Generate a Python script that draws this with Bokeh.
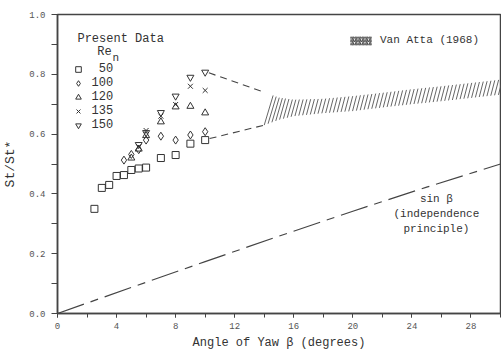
import numpy as np
from bokeh.plotting import figure
from bokeh.models import Legend, LegendItem, Label, Range1d, FixedTicker
from bokeh.embed import file_html
from bokeh.resources import INLINE

# ---- data ----
beta_50 = [2.5, 3, 3.5, 4, 4.5, 5, 5.5, 6, 7, 8, 9, 10]
st_50 = [0.35, 0.42, 0.43, 0.46, 0.463, 0.48, 0.485, 0.488, 0.52, 0.53, 0.568, 0.58]

beta_100 = [4.5, 5, 5.5, 6, 7, 8, 9, 10]
st_100 = [0.513, 0.532, 0.548, 0.58, 0.593, 0.58, 0.597, 0.608]

beta_120 = [5, 5.5, 6, 7, 8, 9, 10]
st_120 = [0.52, 0.55, 0.595, 0.641, 0.691, 0.693, 0.671]

beta_135 = [5.5, 6, 7, 8, 9, 10]
st_135 = [0.558, 0.612, 0.66, 0.699, 0.76, 0.746]

beta_150 = [5.5, 6, 7, 8, 9, 10]
st_150 = [0.565, 0.605, 0.672, 0.727, 0.79, 0.807]

# Van Atta (1968) band
va_beta = [14, 15, 16, 18, 20, 22, 24, 26, 28, 30]
va_upper = [0.74, 0.722, 0.715, 0.718, 0.727, 0.738, 0.75, 0.76, 0.771, 0.782]
va_lower = [0.63, 0.648, 0.66, 0.67, 0.677, 0.689, 0.70, 0.71, 0.721, 0.732]

# dashed connectors
conn_up_beta = [10.25, 14]
conn_up_st = [0.805, 0.74]
conn_lo_beta = [10.3, 14]
conn_lo_st = [0.585, 0.63]

# sin beta (independence principle)
sin_beta = [0, 5, 10, 15, 20, 25, 30]
sin_val = [0.0, 0.0872, 0.1736, 0.2588, 0.3420, 0.4226, 0.5]

x_ticks = [0, 4, 8, 12, 16, 20, 24, 28]
y_ticks = [0, 0.2, 0.4, 0.6, 0.8, 1.0]

FONT = "Liberation Mono"
INK = "#333333"
AX = "#444444"

p = figure(width=501, height=353, output_backend="svg", toolbar_location=None,
           x_range=Range1d(0, 30), y_range=Range1d(0, 1.0),
           min_border_left=55, min_border_right=1, min_border_top=14, min_border_bottom=40)
p.background_fill_color = "white"
p.border_fill_color = "white"
p.grid.visible = False
p.outline_line_color = AX
p.outline_line_width = 1.5

# axes
xa = p.xaxis[0]
xa.ticker = FixedTicker(ticks=x_ticks, minor_ticks=list(range(0, 31, 2)))
ya = p.yaxis[0]
ya.ticker = FixedTicker(ticks=y_ticks, minor_ticks=[0.1, 0.3, 0.5, 0.7, 0.9])
ya.major_label_overrides = {0: "0.0", 1: "1.0"}
for ax in (xa, ya):
    ax.axis_line_color = AX
    ax.axis_line_width = 1.5
    ax.major_tick_line_color = AX
    ax.minor_tick_line_color = AX
    ax.major_label_text_font = FONT
    ax.major_label_text_font_size = "9px"
    ax.major_label_text_color = "#555555"
    ax.axis_label_text_font = FONT
    ax.axis_label_text_font_style = "normal"
    ax.axis_label_text_color = INK
xa.major_tick_in = 0
xa.major_tick_out = 4
xa.minor_tick_in = 0
xa.minor_tick_out = 4
xa.major_label_standoff = 5
xa.axis_label = "Angle of Yaw β (degrees)"
xa.axis_label_text_font_size = "12px"
xa.axis_label_standoff = 4
ya.major_tick_in = 0
ya.major_tick_out = 6
ya.minor_tick_in = 0
ya.minor_tick_out = 6
ya.major_label_standoff = 6
ya.axis_label = "St/St*"
ya.axis_label_text_font_size = "13px"
ya.axis_label_standoff = 8

# sin beta line
p.line(sin_beta, sin_val, line_color=AX, line_width=1.2, line_dash="28 7 8 7")

# connectors
p.line(conn_up_beta, conn_up_st, line_color=AX, line_width=1.1, line_dash="7 5")
p.line(conn_lo_beta, conn_lo_st, line_color=AX, line_width=1.1, line_dash="7 5")

# Van Atta band: steep hatch strokes spanning the band
hx0 = np.arange(va_beta[0], va_beta[-1], 0.26)
lo0 = np.interp(hx0, va_beta, va_lower)
up0 = np.interp(hx0, va_beta, va_upper)
dx = (up0 - lo0) * 300 * 0.27 / 14.82
hx1 = hx0 + dx
up1 = np.interp(hx1, va_beta, va_upper)
p.segment(x0=hx0, y0=lo0, x1=hx1, y1=up1, line_color="#555555", line_width=0.9)

# legend proxy for the hatched band (zero-height area, only its key is seen)
band_key = p.varea(x=va_beta, y1=va_upper, y2=va_upper, fill_alpha=0,
                   hatch_pattern="/", hatch_color="#444444", hatch_scale=3.5, hatch_weight=1.2)

# data markers
common = dict(size=7, line_color=INK, fill_color=None, line_width=1.0)
r50 = p.scatter(beta_50, st_50, marker="square", **common)
r100 = p.scatter(beta_100, st_100, marker="diamond", size=8, line_color=INK, fill_color=None, line_width=1.0)
r120 = p.scatter(beta_120, st_120, marker="triangle", **common)
r135 = p.scatter(beta_135, st_135, marker="x", size=7, line_color=INK, line_width=1.0)
r150 = p.scatter(beta_150, st_150, marker="inverted_triangle", **common)

legend = Legend(items=[
    LegendItem(label=" 50", renderers=[r50]),
    LegendItem(label="100", renderers=[r100]),
    LegendItem(label="120", renderers=[r120]),
    LegendItem(label="135", renderers=[r135]),
    LegendItem(label="150", renderers=[r150]),
], location=(13.5, 181), glyph_width=14, glyph_height=14, label_height=14, spacing=0,
    padding=0, margin=0, label_standoff=7, border_line_color=None,
    background_fill_alpha=0, label_text_font=FONT, label_text_font_size="12px",
    label_text_color=INK)
p.add_layout(legend)

legend2 = Legend(items=[LegendItem(label="Van Atta (1968)", renderers=[band_key])],
                 location=(290, 267), glyph_width=27, glyph_height=11, label_height=12,
                 padding=0, margin=0, label_standoff=6, border_line_color=None,
                 background_fill_alpha=0, label_text_font=FONT, label_text_font_size="11px",
                 label_text_color=INK)
p.add_layout(legend2)

def lab(x, y, text, size="12px", align="left", baseline="middle"):
    p.add_layout(Label(x=x, y=y, text=text, text_font=FONT, text_font_size=size,
                       text_color=INK, text_align=align, text_baseline=baseline))

lab(1.35, 0.917, "Present Data")
lab(2.69, 0.873, "Re")
lab(3.72, 0.853, "n", size="11px")
lab(25.66, 0.383, "sin β", size="11px", align="center")
lab(25.66, 0.333, "(independence", size="11px", align="center")
lab(25.66, 0.283, "principle)", size="11px", align="center")

open("out.html", "w").write(file_html(p, INLINE))
